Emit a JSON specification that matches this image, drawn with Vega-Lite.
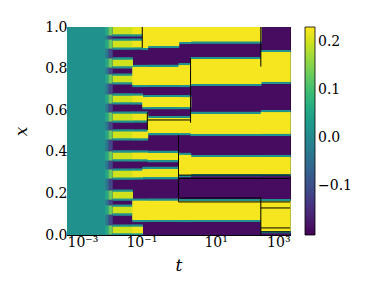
{
  "$schema": "https://vega.github.io/schema/vega-lite/v6.json",
  "autosize": "none",
  "padding": {"left": 67, "top": 27, "right": 84, "bottom": 64},
  "width": 223,
  "height": 208,
  "background": "white",
  "config": {
    "view": {"stroke": "black", "strokeWidth": 1},
    "font": "DejaVu Serif",
    "axis": {"grid": false, "domain": false, "tickColor": "black", "tickSize": -4, "labelPadding": 4, "labelFont": "DejaVu Serif", "labelFontSize": 14, "labelColor": "black", "titleFont": "DejaVu Serif", "titleFontSize": 17, "titleFontStyle": "italic", "titleFontWeight": "normal", "titleColor": "black"}
  },
  "datasets": {
    "heat": [
      {"t0": 0.001, "t1": 0.0106, "y0": 0, "y1": 1, "v": 0.015},
      {"t0": 0.0106, "t1": 0.013, "y0": 0, "y1": 1, "v": -0.03},
      {"t0": 0.0106, "t1": 0.013, "y0": 0.959, "y1": 1.0, "v": 0.06},
      {"t0": 0.0106, "t1": 0.013, "y0": 0.896, "y1": 0.94, "v": 0.06},
      {"t0": 0.0106, "t1": 0.013, "y0": 0.805, "y1": 0.849, "v": 0.06},
      {"t0": 0.0106, "t1": 0.013, "y0": 0.728, "y1": 0.772, "v": 0.06},
      {"t0": 0.0106, "t1": 0.013, "y0": 0.632, "y1": 0.676, "v": 0.06},
      {"t0": 0.0106, "t1": 0.013, "y0": 0.545, "y1": 0.589, "v": 0.06},
      {"t0": 0.0106, "t1": 0.013, "y0": 0.459, "y1": 0.503, "v": 0.06},
      {"t0": 0.0106, "t1": 0.013, "y0": 0.358, "y1": 0.402, "v": 0.06},
      {"t0": 0.0106, "t1": 0.013, "y0": 0.271, "y1": 0.315, "v": 0.06},
      {"t0": 0.0106, "t1": 0.013, "y0": 0.17, "y1": 0.214, "v": 0.06},
      {"t0": 0.0106, "t1": 0.013, "y0": 0.098, "y1": 0.142, "v": 0.06},
      {"t0": 0.0106, "t1": 0.013, "y0": 0.002, "y1": 0.046, "v": 0.06},
      {"t0": 0.013, "t1": 0.017, "y0": 0, "y1": 1, "v": -0.11},
      {"t0": 0.013, "t1": 0.017, "y0": 0.959, "y1": 1.0, "v": 0.13},
      {"t0": 0.013, "t1": 0.017, "y0": 0.896, "y1": 0.94, "v": 0.13},
      {"t0": 0.013, "t1": 0.017, "y0": 0.805, "y1": 0.849, "v": 0.13},
      {"t0": 0.013, "t1": 0.017, "y0": 0.728, "y1": 0.772, "v": 0.13},
      {"t0": 0.013, "t1": 0.017, "y0": 0.632, "y1": 0.676, "v": 0.13},
      {"t0": 0.013, "t1": 0.017, "y0": 0.545, "y1": 0.589, "v": 0.13},
      {"t0": 0.013, "t1": 0.017, "y0": 0.459, "y1": 0.503, "v": 0.13},
      {"t0": 0.013, "t1": 0.017, "y0": 0.358, "y1": 0.402, "v": 0.13},
      {"t0": 0.013, "t1": 0.017, "y0": 0.271, "y1": 0.315, "v": 0.13},
      {"t0": 0.013, "t1": 0.017, "y0": 0.17, "y1": 0.214, "v": 0.13},
      {"t0": 0.013, "t1": 0.017, "y0": 0.098, "y1": 0.142, "v": 0.13},
      {"t0": 0.013, "t1": 0.017, "y0": 0.002, "y1": 0.046, "v": 0.13},
      {"t0": 0.017, "t1": 1000, "y0": 0, "y1": 1, "v": -0.19},
      {"t0": 0.017, "t1": 0.057, "y0": 0.954, "y1": 1.0, "v": 0.02},
      {"t0": 0.017, "t1": 0.057, "y0": 0.891, "y1": 0.945, "v": 0.02},
      {"t0": 0.017, "t1": 0.057, "y0": 0.8, "y1": 0.854, "v": 0.02},
      {"t0": 0.017, "t1": 0.057, "y0": 0.723, "y1": 0.777, "v": 0.02},
      {"t0": 0.017, "t1": 0.057, "y0": 0.627, "y1": 0.681, "v": 0.02},
      {"t0": 0.017, "t1": 0.057, "y0": 0.54, "y1": 0.594, "v": 0.02},
      {"t0": 0.017, "t1": 0.057, "y0": 0.454, "y1": 0.508, "v": 0.02},
      {"t0": 0.017, "t1": 0.057, "y0": 0.353, "y1": 0.407, "v": 0.02},
      {"t0": 0.017, "t1": 0.057, "y0": 0.266, "y1": 0.32, "v": 0.02},
      {"t0": 0.017, "t1": 0.057, "y0": 0.165, "y1": 0.219, "v": 0.02},
      {"t0": 0.017, "t1": 0.057, "y0": 0.093, "y1": 0.147, "v": 0.02},
      {"t0": 0.017, "t1": 0.057, "y0": 0.0, "y1": 0.051, "v": 0.02},
      {"t0": 0.057, "t1": 0.106, "y0": 0.954, "y1": 1.0, "v": 0.02},
      {"t0": 0.057, "t1": 0.106, "y0": 0.891, "y1": 0.945, "v": 0.02},
      {"t0": 0.057, "t1": 0.106, "y0": 0.711, "y1": 0.818, "v": 0.02},
      {"t0": 0.057, "t1": 0.106, "y0": 0.627, "y1": 0.681, "v": 0.02},
      {"t0": 0.057, "t1": 0.106, "y0": 0.54, "y1": 0.594, "v": 0.02},
      {"t0": 0.057, "t1": 0.106, "y0": 0.454, "y1": 0.508, "v": 0.02},
      {"t0": 0.057, "t1": 0.106, "y0": 0.353, "y1": 0.407, "v": 0.02},
      {"t0": 0.057, "t1": 0.106, "y0": 0.266, "y1": 0.32, "v": 0.02},
      {"t0": 0.057, "t1": 0.106, "y0": 0.062, "y1": 0.175, "v": 0.02},
      {"t0": 0.057, "t1": 0.106, "y0": 0.0, "y1": 0.051, "v": 0.02},
      {"t0": 0.106, "t1": 0.146, "y0": 0.889, "y1": 1.0, "v": 0.02},
      {"t0": 0.106, "t1": 0.146, "y0": 0.711, "y1": 0.818, "v": 0.02},
      {"t0": 0.106, "t1": 0.146, "y0": 0.605, "y1": 0.673, "v": 0.02},
      {"t0": 0.106, "t1": 0.146, "y0": 0.54, "y1": 0.594, "v": 0.02},
      {"t0": 0.106, "t1": 0.146, "y0": 0.454, "y1": 0.508, "v": 0.02},
      {"t0": 0.106, "t1": 0.146, "y0": 0.353, "y1": 0.407, "v": 0.02},
      {"t0": 0.106, "t1": 0.146, "y0": 0.268, "y1": 0.328, "v": 0.02},
      {"t0": 0.106, "t1": 0.146, "y0": 0.062, "y1": 0.175, "v": 0.02},
      {"t0": 0.146, "t1": 1.0, "y0": 0.899, "y1": 1.0, "v": 0.02},
      {"t0": 0.146, "t1": 1.0, "y0": 0.711, "y1": 0.818, "v": 0.02},
      {"t0": 0.146, "t1": 1.0, "y0": 0.605, "y1": 0.673, "v": 0.02},
      {"t0": 0.146, "t1": 1.0, "y0": 0.48, "y1": 0.5725, "v": 0.02},
      {"t0": 0.146, "t1": 1.0, "y0": 0.35, "y1": 0.405, "v": 0.02},
      {"t0": 0.146, "t1": 1.0, "y0": 0.268, "y1": 0.328, "v": 0.02},
      {"t0": 0.146, "t1": 1.0, "y0": 0.062, "y1": 0.175, "v": 0.02},
      {"t0": 1.0, "t1": 2.11, "y0": 0.918, "y1": 1.0, "v": 0.02},
      {"t0": 1.0, "t1": 2.11, "y0": 0.711, "y1": 0.827, "v": 0.02},
      {"t0": 1.0, "t1": 2.11, "y0": 0.605, "y1": 0.673, "v": 0.02},
      {"t0": 1.0, "t1": 2.11, "y0": 0.48, "y1": 0.5725, "v": 0.02},
      {"t0": 1.0, "t1": 2.11, "y0": 0.278, "y1": 0.395, "v": 0.02},
      {"t0": 1.0, "t1": 2.11, "y0": 0.062, "y1": 0.173, "v": 0.02},
      {"t0": 2.11, "t1": 164, "y0": 0.92, "y1": 1.0, "v": 0.02},
      {"t0": 2.11, "t1": 164, "y0": 0.716, "y1": 0.856, "v": 0.02},
      {"t0": 2.11, "t1": 164, "y0": 0.476, "y1": 0.592, "v": 0.02},
      {"t0": 2.11, "t1": 164, "y0": 0.283, "y1": 0.385, "v": 0.02},
      {"t0": 2.11, "t1": 164, "y0": 0.062, "y1": 0.173, "v": 0.02},
      {"t0": 164, "t1": 1000, "y0": 0.726, "y1": 0.89, "v": 0.02},
      {"t0": 164, "t1": 1000, "y0": 0.476, "y1": 0.601, "v": 0.02},
      {"t0": 164, "t1": 1000, "y0": 0.283, "y1": 0.385, "v": 0.02},
      {"t0": 164, "t1": 1000, "y0": 0.009, "y1": 0.173, "v": 0.02},
      {"t0": 0.017, "t1": 0.057, "y0": 0.965, "y1": 1.0, "v": 0.2},
      {"t0": 0.017, "t1": 0.057, "y0": 0.902, "y1": 0.934, "v": 0.2},
      {"t0": 0.017, "t1": 0.057, "y0": 0.811, "y1": 0.843, "v": 0.2},
      {"t0": 0.017, "t1": 0.057, "y0": 0.734, "y1": 0.766, "v": 0.2},
      {"t0": 0.017, "t1": 0.057, "y0": 0.638, "y1": 0.67, "v": 0.2},
      {"t0": 0.017, "t1": 0.057, "y0": 0.551, "y1": 0.583, "v": 0.2},
      {"t0": 0.017, "t1": 0.057, "y0": 0.465, "y1": 0.497, "v": 0.2},
      {"t0": 0.017, "t1": 0.057, "y0": 0.364, "y1": 0.396, "v": 0.2},
      {"t0": 0.017, "t1": 0.057, "y0": 0.277, "y1": 0.309, "v": 0.2},
      {"t0": 0.017, "t1": 0.057, "y0": 0.176, "y1": 0.208, "v": 0.2},
      {"t0": 0.017, "t1": 0.057, "y0": 0.104, "y1": 0.136, "v": 0.2},
      {"t0": 0.017, "t1": 0.057, "y0": 0.008, "y1": 0.04, "v": 0.2},
      {"t0": 0.057, "t1": 0.106, "y0": 0.965, "y1": 1.0, "v": 0.22},
      {"t0": 0.057, "t1": 0.106, "y0": 0.902, "y1": 0.934, "v": 0.22},
      {"t0": 0.057, "t1": 0.106, "y0": 0.721, "y1": 0.808, "v": 0.225},
      {"t0": 0.057, "t1": 0.106, "y0": 0.638, "y1": 0.67, "v": 0.22},
      {"t0": 0.057, "t1": 0.106, "y0": 0.551, "y1": 0.583, "v": 0.22},
      {"t0": 0.057, "t1": 0.106, "y0": 0.465, "y1": 0.497, "v": 0.22},
      {"t0": 0.057, "t1": 0.106, "y0": 0.364, "y1": 0.396, "v": 0.22},
      {"t0": 0.057, "t1": 0.106, "y0": 0.277, "y1": 0.309, "v": 0.22},
      {"t0": 0.057, "t1": 0.106, "y0": 0.072, "y1": 0.165, "v": 0.225},
      {"t0": 0.057, "t1": 0.106, "y0": 0.008, "y1": 0.04, "v": 0.22},
      {"t0": 0.106, "t1": 0.146, "y0": 0.899, "y1": 1.0, "v": 0.225},
      {"t0": 0.106, "t1": 0.146, "y0": 0.721, "y1": 0.808, "v": 0.225},
      {"t0": 0.106, "t1": 0.146, "y0": 0.615, "y1": 0.663, "v": 0.225},
      {"t0": 0.106, "t1": 0.146, "y0": 0.551, "y1": 0.583, "v": 0.22},
      {"t0": 0.106, "t1": 0.146, "y0": 0.465, "y1": 0.497, "v": 0.22},
      {"t0": 0.106, "t1": 0.146, "y0": 0.364, "y1": 0.396, "v": 0.22},
      {"t0": 0.106, "t1": 0.146, "y0": 0.279, "y1": 0.317, "v": 0.22},
      {"t0": 0.106, "t1": 0.146, "y0": 0.072, "y1": 0.165, "v": 0.225},
      {"t0": 0.146, "t1": 1.0, "y0": 0.909, "y1": 1.0, "v": 0.225},
      {"t0": 0.146, "t1": 1.0, "y0": 0.721, "y1": 0.808, "v": 0.225},
      {"t0": 0.146, "t1": 1.0, "y0": 0.615, "y1": 0.663, "v": 0.225},
      {"t0": 0.146, "t1": 1.0, "y0": 0.49, "y1": 0.5625, "v": 0.225},
      {"t0": 0.146, "t1": 1.0, "y0": 0.361, "y1": 0.394, "v": 0.22},
      {"t0": 0.146, "t1": 1.0, "y0": 0.279, "y1": 0.317, "v": 0.22},
      {"t0": 0.146, "t1": 1.0, "y0": 0.072, "y1": 0.165, "v": 0.225},
      {"t0": 1.0, "t1": 2.11, "y0": 0.928, "y1": 1.0, "v": 0.225},
      {"t0": 1.0, "t1": 2.11, "y0": 0.721, "y1": 0.817, "v": 0.225},
      {"t0": 1.0, "t1": 2.11, "y0": 0.615, "y1": 0.663, "v": 0.225},
      {"t0": 1.0, "t1": 2.11, "y0": 0.49, "y1": 0.5625, "v": 0.225},
      {"t0": 1.0, "t1": 2.11, "y0": 0.288, "y1": 0.385, "v": 0.225},
      {"t0": 1.0, "t1": 2.11, "y0": 0.072, "y1": 0.163, "v": 0.225},
      {"t0": 2.11, "t1": 164, "y0": 0.93, "y1": 1.0, "v": 0.225},
      {"t0": 2.11, "t1": 164, "y0": 0.726, "y1": 0.846, "v": 0.225},
      {"t0": 2.11, "t1": 164, "y0": 0.486, "y1": 0.582, "v": 0.225},
      {"t0": 2.11, "t1": 164, "y0": 0.293, "y1": 0.375, "v": 0.225},
      {"t0": 2.11, "t1": 164, "y0": 0.072, "y1": 0.163, "v": 0.225},
      {"t0": 164, "t1": 1000, "y0": 0.736, "y1": 0.88, "v": 0.225},
      {"t0": 164, "t1": 1000, "y0": 0.486, "y1": 0.591, "v": 0.225},
      {"t0": 164, "t1": 1000, "y0": 0.293, "y1": 0.375, "v": 0.225},
      {"t0": 164, "t1": 1000, "y0": 0.019, "y1": 0.163, "v": 0.225}
    ],
    "lines": [
      {"t0": 0.106, "t1": 0.106, "y0": 0.9, "y1": 1.0},
      {"t0": 0.145, "t1": 0.145, "y0": 0.505, "y1": 0.59},
      {"t0": 0.145, "t1": 2.11, "y0": 0.553, "y1": 0.553},
      {"t0": 2.11, "t1": 2.11, "y0": 0.54, "y1": 0.85},
      {"t0": 1.0, "t1": 1.0, "y0": 0.159, "y1": 0.48},
      {"t0": 1.0, "t1": 1000, "y0": 0.288, "y1": 0.288},
      {"t0": 1.0, "t1": 1000, "y0": 0.272, "y1": 0.272},
      {"t0": 1.0, "t1": 164, "y0": 0.178, "y1": 0.178},
      {"t0": 1.0, "t1": 164, "y0": 0.159, "y1": 0.159},
      {"t0": 164, "t1": 164, "y0": 0.81, "y1": 1.0},
      {"t0": 164, "t1": 164, "y0": 0.0, "y1": 0.183},
      {"t0": 164, "t1": 1000, "y0": 0.159, "y1": 0.159},
      {"t0": 164, "t1": 1000, "y0": 0.13, "y1": 0.13},
      {"t0": 164, "t1": 1000, "y0": 0.034, "y1": 0.034},
      {"t0": 164, "t1": 1000, "y0": 0.015, "y1": 0.015}
    ]
  },
  "layer": [
    {
      "data": {"name": "heat"},
      "mark": {"type": "rect", "strokeWidth": 0, "x2Offset": 0.7},
      "encoding": {
        "x": {"field": "t0", "type": "quantitative", "scale": {"type": "log", "domain": [0.001, 1000], "nice": false},
          "axis": {"orient": "bottom", "values": [0.001, 0.1, 10, 1000], "labelExpr": "datum.value == 0.001 ? '10⁻³' : datum.value == 0.1 ? '10⁻¹' : datum.value == 10 ? '10¹' : '10³'", "title": "t", "titlePadding": 8}},
        "x2": {"field": "t1"},
        "y": {"field": "y0", "type": "quantitative", "scale": {"domain": [0, 1], "nice": false},
          "axis": {"orient": "left", "values": [0, 0.2, 0.4, 0.6, 0.8, 1.0], "format": ".1f", "title": "x", "titlePadding": 14}},
        "y2": {"field": "y1"},
        "color": {"field": "v", "type": "quantitative", "scale": {"scheme": "viridis", "domain": [-0.202, 0.231]},
          "legend": {"orient": "none", "legendX": 238, "legendY": 0, "direction": "vertical", "gradientLength": 208, "gradientThickness": 10, "title": null, "padding": 0, "values": [-0.1, 0, 0.1, 0.2], "labelExpr": "replace(format(datum.value, '.1f'), '-', '−')", "labelFont": "DejaVu Serif", "labelFontSize": 14, "labelColor": "black", "labelOffset": 3, "labelOverlap": false, "gradientStrokeColor": "black", "gradientStrokeWidth": 0.8}}
      }
    },
    {
      "data": {"name": "lines"},
      "mark": {"type": "rule", "color": "black", "strokeWidth": 1},
      "encoding": {
        "x": {"field": "t0", "type": "quantitative", "axis": {"orient": "top", "values": [0.001, 0.1, 10, 1000], "labels": false, "title": null}},
        "x2": {"field": "t1"},
        "y": {"field": "y0", "type": "quantitative", "axis": {"orient": "right", "values": [0, 0.2, 0.4, 0.6, 0.8, 1.0], "labels": false, "title": null}},
        "y2": {"field": "y1"}
      }
    }
  ]
}
